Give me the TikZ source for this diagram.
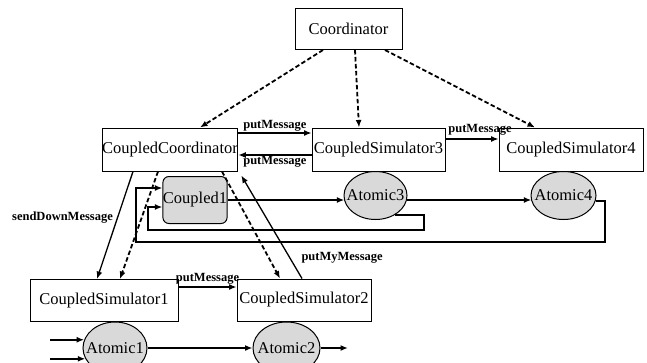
\documentclass[tikz,border=0pt]{standalone}
\usepackage{fontspec}
\setmainfont{Liberation Serif}
\usetikzlibrary{arrows.meta,shapes.geometric,calc}
\definecolor{fillgray}{HTML}{D9D9D9}
\begin{document}
\begin{tikzpicture}[x=1pt,y=-1pt,
  box/.style={draw,line width=1pt,inner sep=0pt,font=\fontsize{16.5}{18}\selectfont},
  atom/.style={draw,ellipse,line width=1pt,fill=fillgray,inner sep=0pt,label={[font=\fontsize{16.5}{18}\selectfont,inner sep=0pt]center:#1}},
  tip/.style={-{Latex[length=7.5pt,width=6pt]}},
  arr/.style={tip,line width=1.3pt},
  dasharr/.style={tip,line width=1.8pt,dash pattern=on 4.5pt off 2.5pt},
  wire/.style={line width=1.9pt},
  lbl/.style={font=\fontsize{12.5}{14}\selectfont\bfseries,inner sep=1pt}]
\useasboundingbox (0,0) rectangle (647,362);
% nodes
\node[box,minimum width=107pt,minimum height=41pt] (coord) at (348.5,29) {Coordinator};
\node[box,minimum width=134pt,minimum height=43pt] (cc) at (170,149.5) {CoupledCoordinator};
\node[box,minimum width=133pt,minimum height=43pt] (cs3) at (378.5,149.5) {CoupledSimulator3};
\node[box,minimum width=144pt,minimum height=43pt] (cs4) at (571,149.5) {CoupledSimulator4};
\node[box,rounded corners=6pt,fill=fillgray,minimum width=64pt,minimum height=47pt] (c1) at (195,200) {Coupled1};
\node[atom=Atomic3,minimum width=63pt,minimum height=48pt] (a3) at (375.5,195.5) {};
\node[atom=Atomic4,minimum width=65pt,minimum height=48pt] (a4) at (563.5,195.5) {};
\node[box,minimum width=148pt,minimum height=42pt] (cs1) at (104,300.5) {CoupledSimulator1};
\node[box,minimum width=134pt,minimum height=42pt] (cs2) at (304,300) {CoupledSimulator2};
\node[atom=Atomic1,minimum width=64pt,minimum height=52pt] (a1) at (115,348) {};
\node[atom=Atomic2,minimum width=67pt,minimum height=52pt] (a2) at (286.5,348) {};
% coordinator links
\draw[dasharr] ([xshift=-25.5pt]coord.south) -- ([xshift=30pt]cc.north);
\draw[dasharr] ([xshift=6.5pt]coord.south) -- ([xshift=-19.5pt]cs3.north);
\draw[dasharr] ([xshift=36.5pt]coord.south) -- ([xshift=-36pt]cs4.north);
% messages between simulators
\draw[arr] ([yshift=16.5pt]cc.east) -- ([yshift=16.5pt]cs3.west) node[midway,above,lbl] (l1) {putMessage};
\draw[arr] ([yshift=-5.5pt]cs3.west) -- ([yshift=-5.5pt]cc.east) node[midway,below,lbl] (l2) {putMessage};
\draw[arr] ([yshift=10.5pt]cs3.east) -- ([yshift=10.5pt]cs4.west) node[midway,above,lbl,xshift=8pt,yshift=2pt] (l3) {putMessage};
\draw[arr] ([xshift=-37pt]cc.south) -- ([xshift=-7pt]cs1.north) node[pos=0.43,left,lbl,xshift=-3pt] (l4) {sendDownMessage};
\draw[dasharr] ([xshift=-12pt]cc.south) -- ([xshift=16pt]cs1.north);
\draw[dasharr] ([xshift=52pt]cc.south) -- ([xshift=-24pt]cs2.north);
\draw[arr] ([xshift=-2pt]cs2.north) -- ([xshift=3pt,yshift=-4pt]cc.south east) node[pos=0.2,right,lbl,xshift=10pt] (l5) {putMyMessage};
\draw[arr] ([yshift=13.5pt]cs1.east) coordinate (p1) -- (p1 -| cs2.west) node[midway,above,lbl,yshift=1pt] (l6) {putMessage};
% coupling wires
\draw[wire,tip] (c1.east) -- (a3.190 |- c1.east);
\draw[wire,tip] (a3.-10 |- c1.east) -- (a4.190 |- c1.east);
\draw[wire,tip] (a4.-10) -| (605,242) -- (136,242) |- ([yshift=12pt]c1.west);
\draw[wire,tip] (a3.-45) -| (424,230) -- (148,230) |- ([yshift=-7pt]c1.west);
% bottom atomics
\coordinate (inx) at (50,0);
\draw[wire,tip] (a1.165 -| inx) -- (a1.165);
\draw[wire,tip] (a1.200 -| inx) -- (a1.200);
\draw[wire,tip] (a1.east) -- (a2.west);
\coordinate (out2) at (348,348);
\draw[wire,tip] (a2.east) -- (out2);
\end{tikzpicture}
\end{document}
